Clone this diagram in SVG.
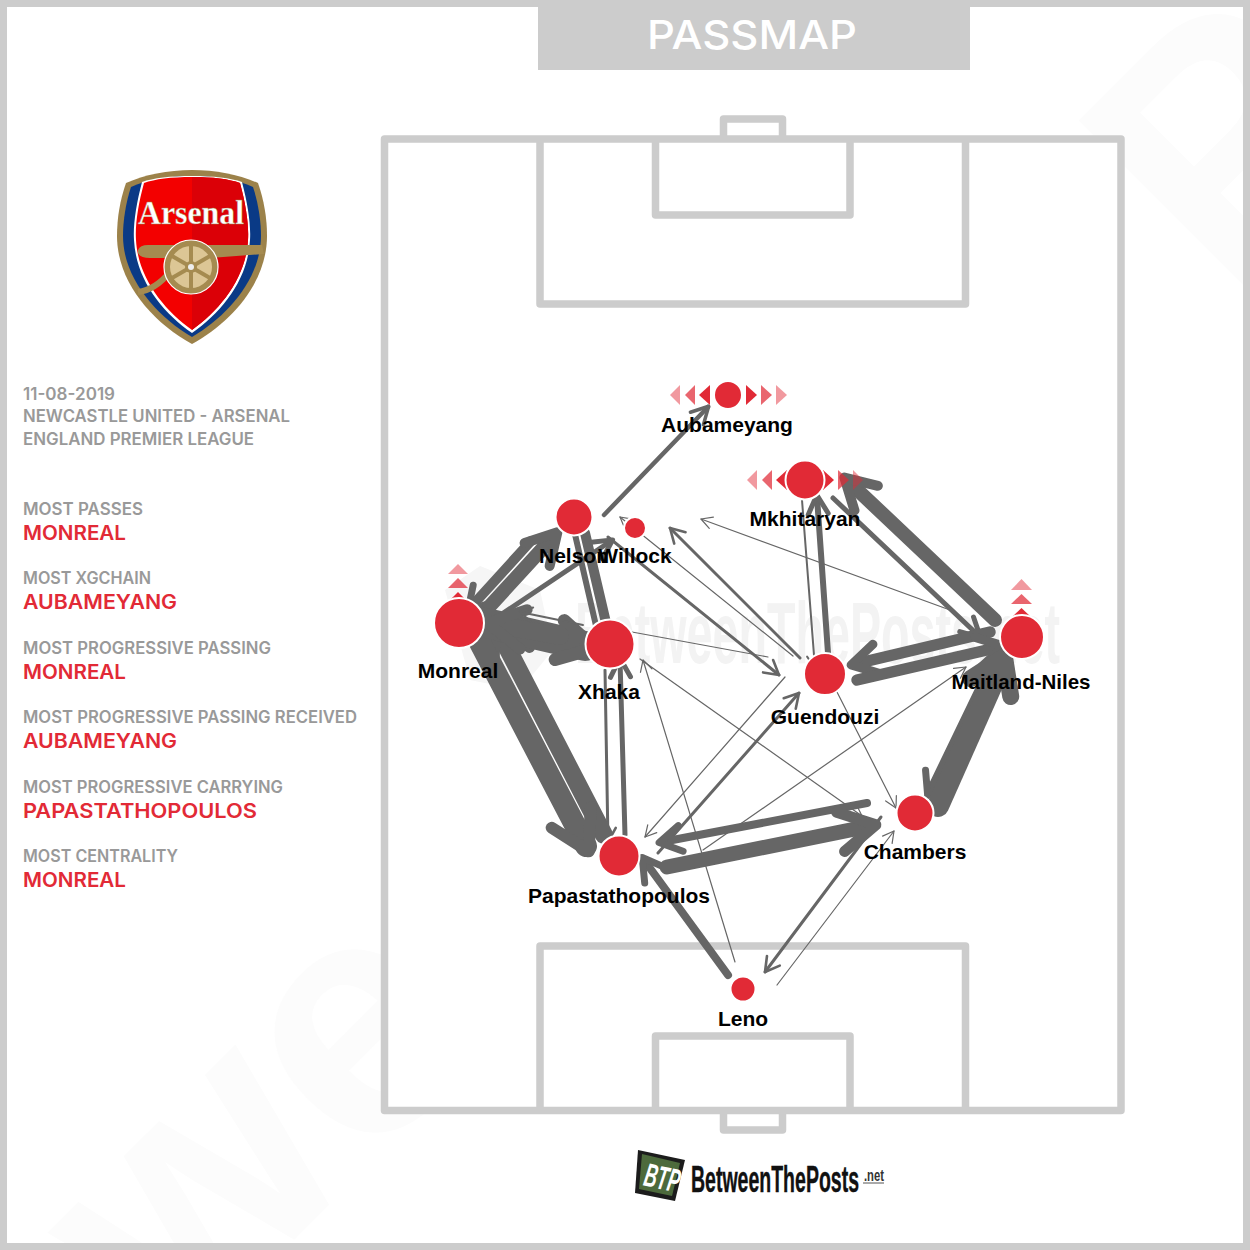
<svg xmlns="http://www.w3.org/2000/svg" width="1250" height="1250" viewBox="0 0 1250 1250">
<style>
.pitch{fill:none;stroke:#ccc;stroke-width:7.5;stroke-linejoin:round}
.side{font-family:"Inter","Lato","Liberation Sans",sans-serif;font-weight:600}
.g{fill:#999;font-size:17px}
.r{fill:#e22a36;font-size:20px}
.lab{font-family:"Liberation Sans",Arial,sans-serif;font-weight:700;font-size:21px;fill:#000;text-anchor:middle}
.n{fill:#e12a36;stroke:#fff;stroke-width:2}
.tri{fill:#e12a36}
.o2{opacity:.72}.o3{opacity:.48}
.wm{font-family:"Liberation Sans",sans-serif;font-weight:700;font-size:340px;fill:#fcfcfc}
#connectors line{stroke:#666;stroke-linecap:round;fill:none}
.hd{fill:none;stroke:#666;stroke-linecap:round;stroke-linejoin:round}
.t0{stroke-width:1.2}
.t1{stroke-width:1.2;marker-end:url(#a1)}
.t2{stroke-width:2;marker-end:url(#a2)}
.t3{stroke-width:3;marker-end:url(#a3)}
.t4{stroke-width:4.500;marker-end:url(#a4)}
.t5{stroke-width:5;marker-end:url(#a5)}
.t6{stroke-width:6;marker-end:url(#a5)}
.t8{stroke-width:8;marker-end:url(#a7)}
.t10{stroke-width:10;marker-end:url(#a7)}
.t11{stroke-width:11.500;marker-end:url(#a10)}
.t14{stroke-width:14;marker-end:url(#a12)}
.t15{stroke-width:15;marker-end:url(#a16)}
.t18{stroke-width:18;marker-end:url(#a16)}
.t22{stroke-width:22;marker-end:url(#a20)}
.t23{stroke-width:22;marker-end:url(#a22)}
.t30{stroke-width:30;marker-end:url(#a28)}
.p6{stroke-width:6}
.p10{stroke-width:10}
</style>
<defs>
<marker id="a1" markerUnits="userSpaceOnUse" markerWidth="1" markerHeight="1" orient="auto" style="overflow:visible"><path class="hd" stroke-width="1.2" d="M-11-6 L0 0 L-11 6"/></marker>
<marker id="a2" markerUnits="userSpaceOnUse" markerWidth="1" markerHeight="1" orient="auto" style="overflow:visible"><path class="hd" stroke-width="2" d="M-12-7 L0 0 L-12 7"/></marker>
<marker id="a3" markerUnits="userSpaceOnUse" markerWidth="1" markerHeight="1" orient="auto" style="overflow:visible"><path class="hd" stroke-width="2.6" d="M-14-8 L0 0 L-14 8"/></marker>
<marker id="a4" markerUnits="userSpaceOnUse" markerWidth="1" markerHeight="1" orient="auto" style="overflow:visible"><path class="hd" stroke-width="3.5" d="M-16-9 L1 0 L-16 9"/></marker>
<marker id="a5" markerUnits="userSpaceOnUse" markerWidth="1" markerHeight="1" orient="auto" style="overflow:visible"><path class="hd" stroke-width="5" d="M-17-10 L2 0 L-17 10"/></marker>
<marker id="a7" markerUnits="userSpaceOnUse" markerWidth="1" markerHeight="1" orient="auto" style="overflow:visible"><path class="hd" stroke-width="7" d="M-19-13 L3 0 L-19 13"/></marker>
<marker id="a10" markerUnits="userSpaceOnUse" markerWidth="1" markerHeight="1" orient="auto" style="overflow:visible"><path class="hd" stroke-width="9" d="M-22-15 L4 0 L-22 15"/></marker>
<marker id="a12" markerUnits="userSpaceOnUse" markerWidth="1" markerHeight="1" orient="auto" style="overflow:visible"><path class="hd" stroke-width="10" d="M-25-17 L5 0 L-25 17"/></marker>
<marker id="a16" markerUnits="userSpaceOnUse" markerWidth="1" markerHeight="1" orient="auto" style="overflow:visible"><path class="hd" stroke-width="11" d="M-30-20 L6 0 L-30 20"/></marker>
<marker id="a20" markerUnits="userSpaceOnUse" markerWidth="1" markerHeight="1" orient="auto" style="overflow:visible"><path class="hd" stroke-width="12" d="M-32-22 L6 0 L-32 22"/></marker>
<marker id="a22" markerUnits="userSpaceOnUse" markerWidth="1" markerHeight="1" orient="auto" style="overflow:visible"><path class="hd" stroke-width="17" d="M-28-22 L6 0 L-28 22"/></marker>
<marker id="a28" markerUnits="userSpaceOnUse" markerWidth="1" markerHeight="1" orient="auto" style="overflow:visible"><path class="hd" stroke-width="13" d="M-26-20 L10 0 L-26 20"/></marker>
</defs>
<rect width="1250" height="1250" fill="#fff"/>
<g id="watermark-large">
<text class="wm" transform="translate(175,1359) rotate(-45)">we</text>
<text class="wm" transform="translate(1228,302) rotate(-45)">P</text>
</g>
<rect x="3.500" y="3.500" width="1243" height="1243" fill="none" stroke="#ccc" stroke-width="7"/>
<g id="title">
<rect x="538" y="0" width="432" height="70" fill="#ccc"/>
<text x="647" y="49" font-family="Inter,Lato,sans-serif" font-weight="500" font-size="40" fill="#fff" textLength="210" lengthAdjust="spacingAndGlyphs">PASSMAP</text>
</g>
<g id="pitch">
<rect x="384.500" y="139" width="736.500" height="971.500" fill="#fff"/>
<g id="watermark-mid">
<path d="M445 590 L480 566 L540 590 L553 650 L520 690 L470 680Z" fill="#f6f6f6"/>
<text x="575" y="663" font-family="Liberation Sans,sans-serif" font-weight="700" font-size="88" fill="#f3f3f3" textLength="485" lengthAdjust="spacingAndGlyphs">BetweenThePosts.net</text>
</g>
<rect class="pitch" x="384.500" y="139" width="736.500" height="971.500"/>
<path class="pitch" d="M540 139V304H965.500V139"/>
<path class="pitch" d="M655.500 139V215H850V139"/>
<path class="pitch" d="M723.500 139V119H782.500V139"/>
<path class="pitch" d="M540 1110.500V946H965.500V1110.500"/>
<path class="pitch" d="M655.500 1110.500V1036H850V1110.500"/>
<path class="pitch" d="M723.500 1110.500V1130H782.500V1110.500"/>
</g>
<g id="crest">
<path fill="#9c824a" d="M192 170C216 170 240 175 258 183C264 200 267 218 267 236C267 282 232 322 192 344C152 322 117 282 117 236C117 218 120 200 126 183C144 175 168 170 192 170Z"/>
<path fill="#0a3a86" d="M192 176C216 176 238 180 253 187C258 202 261 220 261 236C261 278 228 316 192 337C156 316 123 278 123 236C123 220 126 202 131 187C146 180 168 176 192 176Z"/>
<path fill="#fff" d="M192 176C213 176 231 178 242 182C248 205 251 225 250 240C248 280 222 312 192 333C162 312 136 280 134 240C133 225 136 205 142 182C153 178 171 176 192 176Z"/>
<path fill="#f30000" d="M192 177C213 177 229 179 240 183C246 205 249 225 248 240C246 278 220 310 192 330C164 310 138 278 136 240C135 225 138 205 144 183C155 179 171 177 192 177Z"/>
<path fill="#db0007" d="M192 177C213 177 229 179 240 183C246 205 249 225 248 240C246 278 220 310 192 330Z"/>
<text x="138" y="224" font-family="Liberation Serif,serif" font-weight="700" font-size="33" fill="#fff" stroke="#9c824a" stroke-width=".4" textLength="106" lengthAdjust="spacingAndGlyphs">Arsenal</text>
<path fill="#a58b50" d="M138 250Q140 245 148 245L262 245L264 254L210 258L150 258Q140 258 138 253Z"/>
<path fill="none" stroke="#a58b50" stroke-width="6" d="M138 292Q155 290 170 272"/>
<circle cx="191" cy="267" r="27" fill="#a58b50" stroke="#fff" stroke-width="1.2"/>
<circle cx="191" cy="267" r="21" fill="#dcc695"/>
<g stroke="#a58b50" stroke-width="4"><line x1="191" y1="245" x2="191" y2="289"/><line x1="172" y1="256" x2="210" y2="278"/><line x1="172" y1="278" x2="210" y2="256"/></g>
<circle cx="191" cy="267" r="6" fill="#a58b50"/><circle cx="191" cy="267" r="3" fill="#eee"/>
</g>
<g id="info" class="side">
<text class="g" x="23" y="400" textLength="92" lengthAdjust="spacingAndGlyphs">11-08-2019</text>
<text class="g" x="23" y="422" textLength="267" lengthAdjust="spacingAndGlyphs">NEWCASTLE UNITED - ARSENAL</text>
<text class="g" x="23" y="445" textLength="231" lengthAdjust="spacingAndGlyphs">ENGLAND PREMIER LEAGUE</text>
<text class="g" x="23" y="515" textLength="120" lengthAdjust="spacingAndGlyphs">MOST PASSES</text>
<text class="r" x="23" y="540" textLength="103" lengthAdjust="spacingAndGlyphs">MONREAL</text>
<text class="g" x="23" y="584" textLength="128" lengthAdjust="spacingAndGlyphs">MOST XGCHAIN</text>
<text class="r" x="23" y="609" textLength="154" lengthAdjust="spacingAndGlyphs">AUBAMEYANG</text>
<text class="g" x="23" y="654" textLength="248" lengthAdjust="spacingAndGlyphs">MOST PROGRESSIVE PASSING</text>
<text class="r" x="23" y="679" textLength="103" lengthAdjust="spacingAndGlyphs">MONREAL</text>
<text class="g" x="23" y="723" textLength="334" lengthAdjust="spacingAndGlyphs">MOST PROGRESSIVE PASSING RECEIVED</text>
<text class="r" x="23" y="748" textLength="154" lengthAdjust="spacingAndGlyphs">AUBAMEYANG</text>
<text class="g" x="23" y="793" textLength="260" lengthAdjust="spacingAndGlyphs">MOST PROGRESSIVE CARRYING</text>
<text class="r" x="23" y="818" textLength="234" lengthAdjust="spacingAndGlyphs">PAPASTATHOPOULOS</text>
<text class="g" x="23" y="862" textLength="155" lengthAdjust="spacingAndGlyphs">MOST CENTRALITY</text>
<text class="r" x="23" y="887" textLength="103" lengthAdjust="spacingAndGlyphs">MONREAL</text>
</g>
<g id="connectors">
<line class="t1" x1="793" y1="656" x2="620" y2="517"/>
<line class="t1" x1="950" y1="610" x2="701" y2="519"/>
<line class="t1" x1="703" y1="850" x2="966" y2="667"/>
<line class="t0" x1="768" y1="657" x2="632" y2="632"/>
<line class="t1" x1="735" y1="962" x2="643" y2="660"/>
<line class="t1" x1="640" y1="659" x2="862" y2="816"/>
<line class="t1" x1="837" y1="692" x2="896" y2="808"/>
<line class="t1" x1="785" y1="677" x2="645" y2="837"/>
<line class="t1" x1="777" y1="985" x2="894" y2="831"/>
<line class="t3" x1="800" y1="658" x2="670" y2="528"/>
<line class="t3" x1="608" y1="537" x2="779" y2="675"/>
<line class="t3" x1="658" y1="853" x2="799" y2="693"/>
<line class="t3" x1="881" y1="817" x2="765" y2="972"/>
<line class="t3" x1="605" y1="670" x2="608" y2="842"/>
<line class="t2" x1="802" y1="500" x2="815" y2="668"/>
<line class="t4" x1="604" y1="515" x2="708" y2="407"/>
<line class="t5" x1="625" y1="835" x2="620" y2="660"/>
<line class="t6" x1="828" y1="653" x2="817" y2="497"/>
<line class="t5" x1="833" y1="498" x2="979" y2="636"/>
<line class="p6" x1="574" y1="530" x2="597" y2="630"/>
<line class="p10" x1="585" y1="533" x2="607" y2="627"/>
<line class="t5" x1="490" y1="622" x2="611" y2="541"/>
<line class="t8" x1="867" y1="803" x2="662" y2="842"/>
<line class="t8" x1="728" y1="975" x2="644" y2="860"/>
<line class="t8" x1="998" y1="650" x2="929" y2="793"/>
<line class="t10" x1="531" y1="541" x2="470" y2="608"/>
<line class="t14" x1="489" y1="607" x2="554" y2="536"/>
<line class="t11" x1="990" y1="632" x2="855" y2="664"/>
<line class="t11" x1="857" y1="680" x2="1000" y2="647"/>
<line class="t15" x1="667" y1="867" x2="870" y2="826"/>
<line class="t14" x1="995" y1="620" x2="848" y2="481"/>
<line class="t18" x1="604" y1="835" x2="498" y2="630"/>
<line class="t22" x1="476" y1="635" x2="586" y2="846"/>
<line class="t23" x1="938" y1="806" x2="1002" y2="662"/>
<line class="t30" x1="482" y1="622" x2="585" y2="646"/>
<line class="t18" x1="560" y1="636" x2="494" y2="624"/>
<line class="t2" x1="583" y1="625" x2="520" y2="612"/>
</g>
<g id="node-aubameyang">
<path class="tri o3" d="M680 385V405L670 395Z"/><path class="tri o2" d="M695 385V405L685 395Z"/><path class="tri" d="M710 385V405L699 395Z"/>
<path class="tri" d="M746 385V405L757 395Z"/><path class="tri o2" d="M761 385V405L772 395Z"/><path class="tri o3" d="M776 385V405L787 395Z"/>
<circle class="n" cx="728" cy="395" r="14"/><text class="lab" x="727" y="432">Aubameyang</text>
</g>
<g id="node-mkhitaryan">
<path class="tri o3" d="M757 470V490L747 480Z"/><path class="tri o2" d="M772 470V490L762 480Z"/><path class="tri" d="M787 470V490L776 480Z"/>
<path class="tri" d="M823 470V490L834 480Z"/><path class="tri o2" d="M838 470V490L849 480Z"/><path class="tri o3" d="M853 470V490L863 480Z"/>
<circle class="n" cx="805" cy="480" r="19.500"/><text class="lab" x="805" y="526">Mkhitaryan</text>
</g>
<g id="node-nelson"><circle class="n" cx="574" cy="517" r="18.500"/><text class="lab" x="574" y="563">Nelson</text></g>
<g id="node-willock"><circle class="n" cx="635" cy="528" r="11"/><text class="lab" x="635" y="563">Willock</text></g>
<g id="node-monreal">
<path class="tri o3" d="M448 574H468L458 564Z"/><path class="tri o2" d="M448 588H468L458 578Z"/><path class="tri" d="M448 602H468L458 592Z"/>
<circle class="n" cx="459" cy="623" r="25"/><text class="lab" x="458" y="678">Monreal</text>
</g>
<g id="node-xhaka"><circle class="n" cx="610" cy="644" r="24.500"/><text class="lab" x="609" y="699">Xhaka</text></g>
<g id="node-guendouzi"><circle class="n" cx="825" cy="674" r="21"/><text class="lab" x="825" y="724">Guendouzi</text></g>
<g id="node-maitland-niles">
<path class="tri o3" d="M1011 590H1032L1021.500 579Z"/><path class="tri o2" d="M1011 604H1032L1021.500 594Z"/><path class="tri" d="M1011 618H1032L1021.500 608Z"/>
<circle class="n" cx="1022" cy="637" r="22"/><text class="lab" x="1021" y="689" textLength="139" lengthAdjust="spacingAndGlyphs">Maitland-Niles</text>
</g>
<g id="node-chambers"><circle class="n" cx="915" cy="813" r="18.500"/><text class="lab" x="915" y="859">Chambers</text></g>
<g id="node-papastathopoulos"><circle class="n" cx="619" cy="856" r="20.500"/><text class="lab" x="619" y="903">Papastathopoulos</text></g>
<g id="node-leno"><circle class="n" cx="743" cy="989" r="12.500"/><text class="lab" x="743" y="1026">Leno</text></g>
<g id="btp-logo">
<path fill="#1c1c1c" d="M638 1150L685 1160L675 1201L635 1193Z"/>
<path fill="#4d6a3c" d="M642 1154L680 1163L672 1196L639 1189Z"/>
<text transform="translate(660,1189) rotate(12)" text-anchor="middle" font-family="Liberation Sans,sans-serif" font-weight="700" font-style="italic" font-size="33" fill="#fff" textLength="36" lengthAdjust="spacingAndGlyphs">BTP</text>
<text x="691" y="1192" font-family="Liberation Sans,sans-serif" font-weight="700" font-size="37" fill="#111" stroke="#111" stroke-width=".4" textLength="168" lengthAdjust="spacingAndGlyphs">BetweenThePosts</text>
<text x="864" y="1181" font-family="Liberation Sans,sans-serif" font-weight="700" font-size="17" fill="#333" textLength="20" lengthAdjust="spacingAndGlyphs">.net</text>
<line x1="863" y1="1183" x2="884" y2="1183" stroke="#555" stroke-width="1"/>
</g>
</svg>
